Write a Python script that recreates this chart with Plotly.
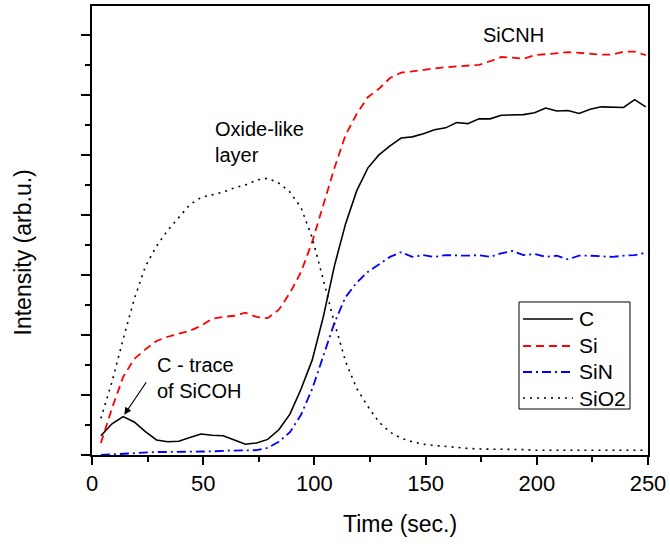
import plotly.graph_objects as go

t = [4, 9, 14, 19, 24, 29, 34, 39, 44, 49, 54, 59, 64, 69, 74, 79, 84, 89, 94, 99,
     104, 109, 114, 119, 124, 129, 134, 139, 144, 149, 154, 159, 164, 169, 174, 179,
     184, 189, 194, 199, 204, 209, 214, 219, 224, 229, 234, 239, 244, 249]

c_vals = [0.32, 0.52, 0.64, 0.55, 0.39, 0.25, 0.22, 0.23, 0.29, 0.35, 0.33, 0.32, 0.25,
          0.18, 0.20, 0.26, 0.42, 0.68, 1.10, 1.58, 2.30, 3.15, 3.85, 4.40, 4.78, 5.00,
          5.15, 5.28, 5.30, 5.35, 5.42, 5.45, 5.54, 5.52, 5.60, 5.60, 5.66, 5.67, 5.67,
          5.70, 5.78, 5.73, 5.74, 5.69, 5.76, 5.80, 5.79, 5.79, 5.92, 5.80]

si_vals = [0.20, 0.78, 1.30, 1.60, 1.76, 1.90, 1.97, 2.02, 2.07, 2.15, 2.27, 2.30, 2.32,
           2.37, 2.30, 2.28, 2.42, 2.70, 3.05, 3.55, 4.17, 4.78, 5.33, 5.68, 5.96, 6.10,
           6.28, 6.37, 6.39, 6.42, 6.44, 6.46, 6.47, 6.48, 6.50, 6.56, 6.63, 6.62, 6.60,
           6.66, 6.68, 6.69, 6.71, 6.70, 6.68, 6.67, 6.67, 6.72, 6.72, 6.66]

sin_vals = [0.00, 0.01, 0.03, 0.03, 0.04, 0.05, 0.05, 0.05, 0.06, 0.06, 0.06, 0.07, 0.07,
            0.07, 0.08, 0.12, 0.22, 0.38, 0.67, 1.10, 1.65, 2.20, 2.63, 2.87, 3.05, 3.18,
            3.30, 3.38, 3.30, 3.33, 3.30, 3.33, 3.32, 3.32, 3.33, 3.30, 3.36, 3.40, 3.33,
            3.35, 3.30, 3.32, 3.26, 3.32, 3.32, 3.31, 3.30, 3.32, 3.33, 3.37]

sio2_vals = [0.61, 1.22, 1.93, 2.60, 3.14, 3.48, 3.74, 3.95, 4.17, 4.29, 4.33, 4.38, 4.45,
             4.50, 4.58, 4.61, 4.53, 4.38, 4.12, 3.62, 2.92, 2.20, 1.56, 1.11, 0.81, 0.55,
             0.38, 0.28, 0.22, 0.18, 0.16, 0.14, 0.12, 0.11, 0.10, 0.10, 0.09, 0.09, 0.09,
             0.08, 0.08, 0.08, 0.08, 0.08, 0.08, 0.08, 0.08, 0.08, 0.08, 0.08]

series_names = ["C", "Si", "SiN", "SiO2"]
x_ticks = [0, 50, 100, 150, 200, 250]

FONT = "Liberation Sans, Arial, sans-serif"

styles = {
    "C": ("black", "solid", 1.6),
    "Si": ("red", "8px,5px", 1.8),
    "SiN": ("blue", "9px,4px,2px,4px", 1.8),
    "SiO2": ("black", "2px,5px", 1.6),
}

fig = go.Figure()
for name, vals in zip(series_names, [c_vals, si_vals, sin_vals, sio2_vals]):
    col, dash, w = styles[name]
    fig.add_trace(go.Scatter(x=t, y=vals, name=name, mode="lines", showlegend=False,
                             line=dict(color=col, dash=dash, width=w)))

fig.update_layout(
    width=670, height=544,
    margin=dict(l=92, r=22, t=6, b=89),
    plot_bgcolor="white", paper_bgcolor="white",
    font=dict(family=FONT, size=22, color="black"),
    showlegend=False,
    xaxis=dict(range=[0, 250], tickvals=x_ticks, ticks="outside", ticklen=8,
               tickwidth=1.5, tickcolor="black", showline=True, linewidth=2,
               linecolor="black", mirror=True, showgrid=False, zeroline=False,
               automargin=False, tickfont=dict(size=22),
               minor=dict(dtick=25, ticks="outside", ticklen=5, tickcolor="black",
                          tickwidth=1.5, showgrid=False)),
    yaxis=dict(range=[0, 7.48], dtick=1, ticks="outside", ticklen=9,
               tickwidth=1.5, tickcolor="black", showticklabels=False,
               showline=True, linewidth=2, linecolor="black", mirror=True,
               showgrid=False, zeroline=False, automargin=False,
               minor=dict(dtick=0.5, ticks="outside", ticklen=5, tickcolor="black",
                          tickwidth=1.5, showgrid=False)),
)

# legend drawn as a boxed key (paper coordinates)
fig.add_shape(type="rect", xref="paper", yref="paper", x0=0.768, x1=0.9676,
              y0=0.1024, y1=0.3408, line=dict(color="black", width=1),
              fillcolor="white", layer="above")
rows_y = [0.3029, 0.2428, 0.1849, 0.1269]
for name, ry in zip(series_names, rows_y):
    col, dash, w = styles[name]
    fig.add_shape(type="line", xref="paper", yref="paper", x0=0.7752, x1=0.8651,
                  y0=ry, y1=ry, line=dict(color=col, dash=dash, width=w), layer="above")
    fig.add_annotation(xref="paper", yref="paper", x=0.8723, y=ry, text=name,
                       showarrow=False, font=dict(size=21, family=FONT),
                       xanchor="left", yanchor="middle")

# axis titles
fig.add_annotation(xref="paper", yref="paper", x=0.554, y=-0.154, text="Time (sec.)",
                   showarrow=False, font=dict(size=23, family=FONT),
                   xanchor="center", yanchor="middle")
fig.add_annotation(xref="paper", yref="paper", x=-0.125, y=0.45,
                   text="Intensity (arb.u.)", textangle=-90,
                   showarrow=False, font=dict(size=23, family=FONT),
                   xanchor="center", yanchor="middle")

# in-plot labels
fig.add_annotation(x=189.3, y=7.0, text="SiCNH", showarrow=False,
                   font=dict(size=20, family=FONT), xanchor="center", yanchor="middle")
fig.add_annotation(x=54.4, y=5.22, text="Oxide-like<br>layer", showarrow=False,
                   font=dict(size=20, family=FONT), xanchor="left", yanchor="middle",
                   align="left")
fig.add_annotation(x=28.3, y=1.28, text="C - trace<br>of SiCOH", showarrow=False,
                   font=dict(size=20, family=FONT), xanchor="left", yanchor="middle",
                   align="left")
fig.add_annotation(x=14.5, y=0.67, text="", showarrow=True, arrowhead=2,
                   arrowsize=1.2, arrowwidth=1.2, arrowcolor="black",
                   ax=23, ay=-34, axref="pixel", ayref="pixel")

fig.write_html("out.html", config={"displayModeBar": False},
               post_script="document.body.style.margin='0';document.body.style.overflow='hidden';")
